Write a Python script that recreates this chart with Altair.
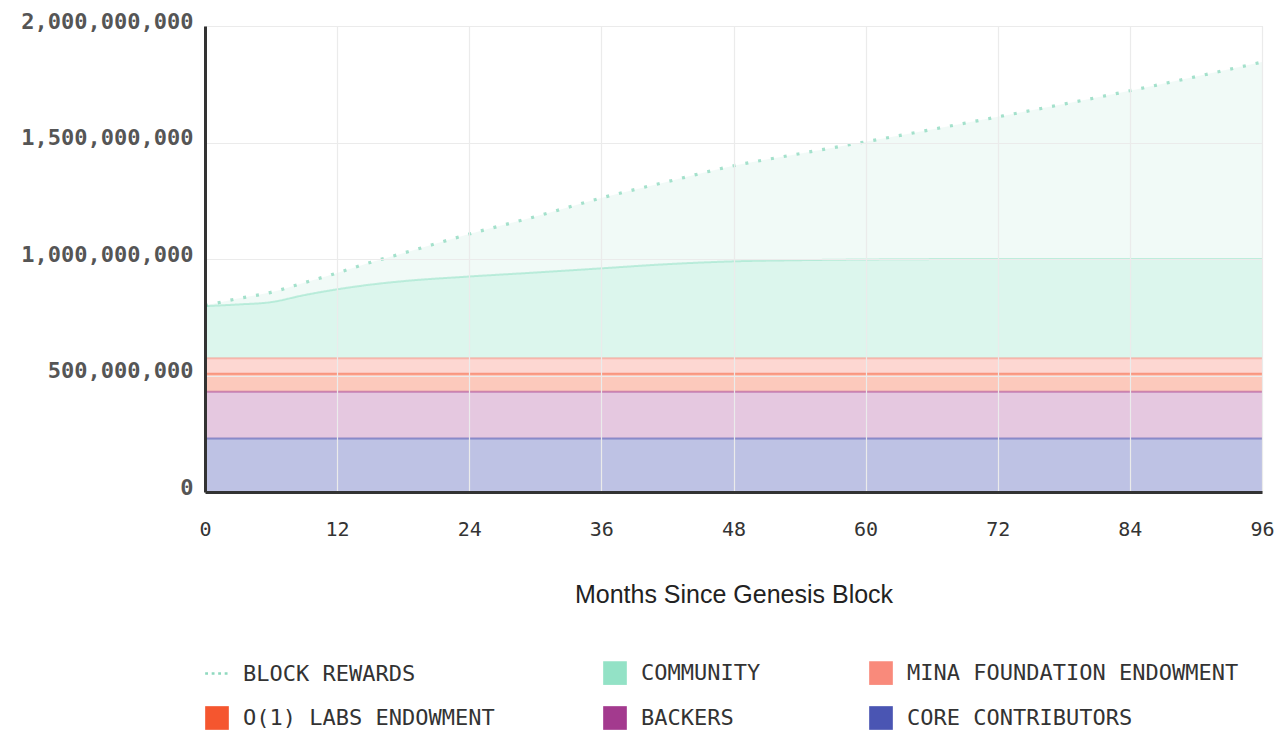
import altair as alt
import pandas as pd

# ---- data ----
months = [0, 3, 6, 9, 12, 15, 18, 24, 30, 36, 42, 48, 54, 60, 72, 84, 96]
# cumulative top of the COMMUNITY band (millions of tokens)
community_top = [798, 805, 815, 845, 870, 890, 905, 925, 942, 960, 978, 990, 995, 998, 1000, 1000, 1000]
# cumulative top of BLOCK REWARDS (dotted line, millions)
block_top = [800, 830, 857, 898, 940, 985, 1025, 1107, 1182, 1262, 1332, 1400, 1452, 1503, 1610, 1722, 1845]
# constant bands, bottom to top (millions)
band_names = ["CORE CONTRIBUTORS", "BACKERS", "O(1) LABS ENDOWMENT", "MINA FOUNDATION ENDOWMENT"]
band_values = [230, 200, 78, 66]

series_order = ["BLOCK REWARDS", "COMMUNITY", "MINA FOUNDATION ENDOWMENT",
                "O(1) LABS ENDOWMENT", "BACKERS", "CORE CONTRIBUTORS"]
series_colors = ["#8FD9BF", "#93E2C6", "#F98A7B", "#F5562F", "#A33A8E", "#4A55B3"]
fill_opac = dict(zip(series_order, [0.13, 0.32, 0.34, 0.32, 0.28, 0.36]))
line_opac = dict(zip(series_order, [0.8, 0.55, 0.5, 0.5, 0.5, 0.55]))
line_width = dict(zip(series_order, [3.2, 2, 2, 2, 2, 2]))

rows = []
for i, m in enumerate(months):
    base = 0
    for name, v in zip(band_names, band_values):
        rows.append({"month": m, "series": name, "y0": base * 1e6, "y1": (base + v) * 1e6})
        base += v
    rows.append({"month": m, "series": "COMMUNITY", "y0": base * 1e6, "y1": community_top[i] * 1e6})
    rows.append({"month": m, "series": "BLOCK REWARDS", "y0": community_top[i] * 1e6, "y1": block_top[i] * 1e6})
df = pd.DataFrame(rows)
df["fop"] = df["series"].map(fill_opac)
df["sop"] = df["series"].map(line_opac)
df["sw"] = df["series"].map(line_width)

MONO = "DejaVu Sans Mono"
dot_path = ("M-1,-0.11h0.24v0.22h-0.24Z M-0.45,-0.11h0.24v0.22h-0.24Z "
            "M0.1,-0.11h0.24v0.22h-0.24Z M0.65,-0.11h0.24v0.22h-0.24Z")
shape_range = [dot_path, "square", "square", "square", "square", "square"]

color_scale = alt.Scale(domain=series_order, range=series_colors)


def make_legend():
    return alt.Legend(
        title=None, orient="none", legendX=0, legendY=635, columns=3,
        direction="horizontal", gridAlign="each",
        symbolSize=560, symbolOpacity=1, symbolStrokeWidth=0,
        labelFont=MONO, labelFontSize=22, labelColor="#333",
        labelOffset=14, columnPadding=108, rowPadding=21, padding=0,
        labelLimit=500,
    )


x_enc = alt.X("month:Q", scale=alt.Scale(domain=[0, 96], nice=False),
              axis=alt.Axis(values=list(range(0, 97, 12)), title="Months Since Genesis Block",
                            labelFont=MONO, labelFontSize=20, labelColor="#333", labelFlush=False,
                            labelPadding=27, ticks=False, domainColor="#333", domainWidth=3,
                            gridColor="#ebebeb", gridWidth=1.2, zindex=1,
                            titleFont="Liberation Sans", titleFontSize=25,
                            titleFontWeight="normal", titleColor="#222", titlePadding=43))

y_axis = alt.Axis(values=[0, 5e8, 1e9, 1.5e9, 2e9], format=",d", title=None,
                  labelFont=MONO, labelFontSize=22, labelFontWeight="bold", labelColor="#555",
                  labelPadding=12, labelOffset=-5, ticks=False, domainColor="#333",
                  domainWidth=3, gridColor="#ebebeb", gridWidth=1.2, zindex=1,
                  minExtent=197, maxExtent=197)

areas = alt.Chart(df).mark_area(interpolate="monotone").encode(
    x=x_enc,
    y=alt.Y("y1:Q", scale=alt.Scale(domain=[0, 2e9], nice=False), axis=y_axis),
    y2="y0:Q",
    color=alt.Color("series:N", scale=color_scale, legend=make_legend()),
    fillOpacity=alt.FillOpacity("fop:Q", scale=None),
    detail="series:N",
)

lines = alt.Chart(df).mark_line(interpolate="monotone", strokeCap="butt").encode(
    x="month:Q",
    y="y1:Q",
    color=alt.Color("series:N", scale=color_scale, legend=make_legend()),
    strokeOpacity=alt.StrokeOpacity("sop:Q", scale=None),
    strokeWidth=alt.StrokeWidth("sw:Q", scale=None),
    strokeDash=alt.StrokeDash("series:N", scale=alt.Scale(domain=series_order,
                              range=[[3, 10], [1, 0], [1, 0], [1, 0], [1, 0], [1, 0]]), legend=None),
)

# legend-only layer: supplies the per-entry symbol shapes (no marks drawn)
keys = alt.Chart(df).transform_filter("datum.month < 0").mark_point(filled=True, opacity=1).encode(
    x="month:Q",
    y="y1:Q",
    color=alt.Color("series:N", scale=color_scale, legend=make_legend()),
    shape=alt.Shape("series:N", scale=alt.Scale(domain=series_order, range=shape_range), legend=make_legend()),
)

chart = alt.layer(areas, lines, keys).properties(
    width=1057, height=466,
    padding={"left": 0, "top": 2, "right": 0, "bottom": 0},
).configure_view(stroke=None).configure(background="white")

chart.save("out.html", embed_options={"renderer": "svg", "actions": False})
